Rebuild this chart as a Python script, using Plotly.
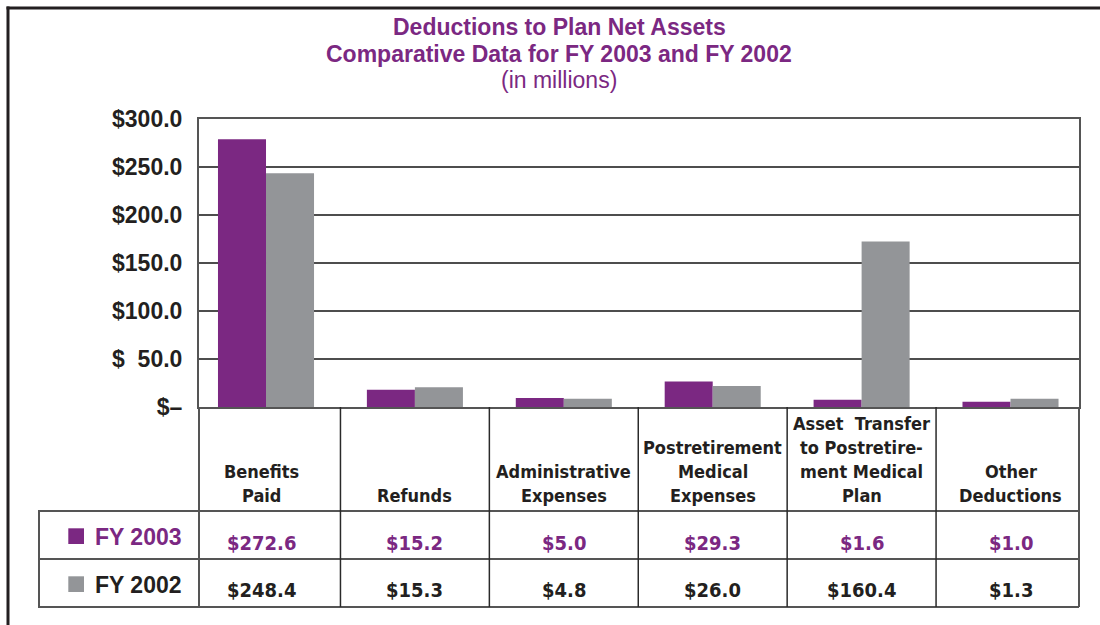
import plotly.graph_objects as go

# ---------------- data ----------------
categories = ["Benefits Paid", "Refunds", "Administrative Expenses",
              "Postretirement Medical Expenses",
              "Asset Transfer to Postretirement Medical Plan", "Other Deductions"]
category_lines = [["Benefits", "Paid"], ["Refunds"], ["Administrative", "Expenses"],
                  ["Postretirement", "Medical", "Expenses"],
                  ["Asset\u00a0 Transfer", "to Postretire-", "ment Medical", "Plan"],
                  ["Other", "Deductions"]]
series_names = ["FY 2003", "FY 2002"]
fy2003_bars = [279.0, 18.0, 9.5, 26.5, 7.5, 5.5]
fy2002_bars = [243.5, 20.5, 8.5, 22.0, 172.5, 8.5]
fy2003_table = ["$272.6", "$15.2", "$5.0", "$29.3", "$1.6", "$1.0"]
fy2002_table = ["$248.4", "$15.3", "$4.8", "$26.0", "$160.4", "$1.3"]
y_tickvals = [0, 50, 100, 150, 200, 250, 300]
y_ticktext = ["$\u2013", "$\u00a0\u00a050.0", "$100.0", "$150.0", "$200.0", "$250.0", "$300.0"]
title_lines = ["Deductions to Plan Net Assets",
               "Comparative Data for FY 2003 and FY 2002", "(in millions)"]

# ---------------- style ----------------
PURPLE = "#7B2882"
GRAY = "#939598"
DARK = "#231F20"
LINE = "#555555"
BASE = "Liberation Sans, Arial, sans-serif"
NARROW = "Liberation Sans Narrow, Arial Narrow, DejaVu Sans Condensed, sans-serif"
CAT_SIZE = 18
VAL_SIZE = 20

W, H = 1100, 625
ML, MR, MT, MB = 199, 21, 119, 218
PW, PH = W - ML - MR, H - MT - MB


def px(X):
    return (X - ML) / PW


def py(Y):
    return (H - MB - Y) / PH


fig = go.Figure()
fig.add_trace(go.Bar(x=categories, y=fy2003_bars, name=series_names[0],
                     marker=dict(color=PURPLE, line=dict(width=0)),
                     showlegend=False, hoverinfo="skip"))
fig.add_trace(go.Bar(x=categories, y=fy2002_bars, name=series_names[1],
                     marker=dict(color=GRAY, line=dict(width=0)),
                     showlegend=False, hoverinfo="skip"))

annotations = []
# title
title_y = [27, 53.5, 79.5]
for i, t in enumerate(title_lines):
    annotations.append(dict(
        text=t, xref="paper", yref="paper", x=px(559), y=py(title_y[i]),
        xanchor="center", yanchor="middle", showarrow=False,
        font=dict(family=BASE, size=23, color=PURPLE,
                  weight="bold" if i < 2 else "normal")))

# category labels (bottom aligned, 24px line spacing)
for j, (cat, lines) in enumerate(zip(categories, category_lines)):
    n = len(lines)
    for k, line in enumerate(lines):
        from_bottom = n - 1 - k
        annotations.append(dict(
            text=line, xref="x", yref="paper", x=cat, xshift=-5 if j == 0 else 0,
            y=py(495.5 - 24 * from_bottom), xanchor="center", yanchor="middle",
            showarrow=False,
            font=dict(family=NARROW, size=CAT_SIZE, color=DARK, weight="bold")))

# table values
for j, (cat, v3, v2) in enumerate(zip(categories, fy2003_table, fy2002_table)):
    xs = -5 if j == 0 else 0
    annotations.append(dict(text=v3, xref="x", yref="paper", x=cat, xshift=xs,
                            y=py(543.0), xanchor="center", yanchor="middle",
                            showarrow=False,
                            font=dict(family=NARROW, size=VAL_SIZE, color=PURPLE,
                                      weight="bold")))
    annotations.append(dict(text=v2, xref="x", yref="paper", x=cat, xshift=xs,
                            y=py(590.3), xanchor="center", yanchor="middle",
                            showarrow=False,
                            font=dict(family=NARROW, size=VAL_SIZE, color=DARK,
                                      weight="bold")))

# row legend labels
annotations.append(dict(text=series_names[0], xref="paper", yref="paper", x=px(92.5),
                        y=py(537), xanchor="left", yanchor="middle", showarrow=False,
                        font=dict(family=BASE, size=23, color=PURPLE, weight="bold")))
annotations.append(dict(text=series_names[1], xref="paper", yref="paper", x=px(92.5),
                        y=py(585), xanchor="left", yanchor="middle", showarrow=False,
                        font=dict(family=BASE, size=23, color=DARK, weight="bold")))

shapes = []
# outer frame (left + top)
shapes.append(dict(type="line", xref="paper", yref="paper", x0=px(8), x1=px(8),
                   y0=py(640), y1=py(6.5), line=dict(color=DARK, width=3)))
shapes.append(dict(type="line", xref="paper", yref="paper", x0=px(6.5), x1=px(1110),
                   y0=py(8), y1=py(8), line=dict(color=DARK, width=3)))
# table horizontal lines
for Y in (511, 559, 607):
    shapes.append(dict(type="line", xref="paper", yref="paper", x0=px(38), x1=1,
                       y0=py(Y), y1=py(Y), line=dict(color=LINE, width=2)))
# table left border
shapes.append(dict(type="line", xref="paper", yref="paper", x0=px(39), x1=px(39),
                   y0=py(511), y1=py(607), line=dict(color=LINE, width=2)))
# plot-width outer verticals
for X in (0, 1):
    shapes.append(dict(type="line", xref="paper", yref="paper", x0=X, x1=X,
                       y0=0, y1=py(607), line=dict(color=LINE, width=2)))
# interior column separators
for k in range(len(categories) - 1):
    shapes.append(dict(type="line", xref="x", yref="paper", x0=k + 0.5, x1=k + 0.5,
                       y0=0, y1=py(607), line=dict(color="#2a2a2a", width=1.5)))
# legend squares
shapes.append(dict(type="rect", xref="paper", yref="paper", x0=px(68.3), x1=px(84),
                   y0=py(544), y1=py(528.3), fillcolor=PURPLE, line=dict(width=0)))
shapes.append(dict(type="rect", xref="paper", yref="paper", x0=px(68.3), x1=px(84),
                   y0=py(592), y1=py(576.3), fillcolor=GRAY, line=dict(width=0)))

fig.update_layout(
    width=W, height=H,
    margin=dict(l=ML, r=MR, t=MT, b=MB, pad=0),
    paper_bgcolor="white", plot_bgcolor="white",
    barmode="group", bargap=0.355, bargroupgap=0,
    annotations=annotations, shapes=shapes,
    xaxis=dict(type="category", range=[-0.45, 5.46], showticklabels=False,
               ticks="", showgrid=False, zeroline=False,
               showline=True, mirror=True, linecolor=LINE, linewidth=2),
    yaxis=dict(range=[0, 300], tickvals=y_tickvals, ticktext=y_ticktext,
               tickfont=dict(family=BASE, size=23, color=DARK, weight="bold"),
               ticks="", ticklabelstandoff=10,
               showgrid=True, gridcolor="#4d4d4d", gridwidth=1.5,
               zeroline=False, showline=True, mirror=True,
               linecolor=LINE, linewidth=2),
    hovermode=False,
)

fig.write_html("out.html", config={"displayModeBar": False},
               post_script="document.body.style.margin='0';")
